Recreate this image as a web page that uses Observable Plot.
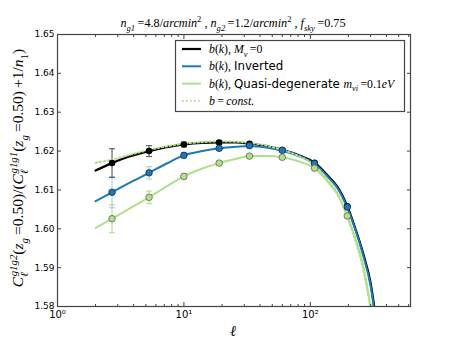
<!DOCTYPE html>
<html><head><meta charset="utf-8">
<script src="https://cdn.jsdelivr.net/npm/d3@7"></script>
<script src="https://cdn.jsdelivr.net/npm/@observablehq/plot@0.6"></script>
<style>body{margin:0;background:#fff}svg{display:block}</style>
</head><body><div id="chart"></div>
<script>
// curve sampling multipoles
const ellCurve = [2, 2.7, 3.7, 5.3, 7.3, 10, 14, 19, 26, 33, 45, 60, 80, 108, 140, 163, 196, 230, 260, 300, 330];
const curveMnu0 = [1.6150, 1.6169, 1.6186, 1.6200, 1.6210, 1.6217, 1.6221, 1.6222, 1.6222, 1.6219, 1.6213, 1.6203, 1.6190, 1.6170, 1.6134, 1.6109, 1.6058, 1.5995, 1.5940, 1.5860, 1.5770];
const curveInv  = [1.6071, 1.6094, 1.6118, 1.6144, 1.6168, 1.6189, 1.6200, 1.6207, 1.6211, 1.6213, 1.6209, 1.6201, 1.6188, 1.6167, 1.6131, 1.6106, 1.6054, 1.5992, 1.5935, 1.5852, 1.5760];
const curveQD   = [1.6002, 1.6026, 1.6052, 1.6081, 1.6109, 1.6135, 1.6155, 1.6169, 1.6180, 1.6187, 1.6187, 1.6184, 1.6174, 1.6156, 1.6118, 1.6090, 1.6033, 1.5970, 1.5910, 1.5800, 1.5720];
const curveConst= [1.6170, 1.6178, 1.6190, 1.6203, 1.6212, 1.6219, 1.6223, 1.6225, 1.6224, 1.6221, 1.6214, 1.6203, 1.6188, 1.6163, 1.6122, 1.6093, 1.6030, 1.5963, 1.5900, 1.5790, 1.5700];
// binned points with error bars
const ellBins = [2.7, 5.3, 10, 19, 33, 60, 108, 196];
const ptsMnu0 = [1.6169, 1.6200, 1.6217, 1.6222, 1.6219, 1.6203, 1.6170, 1.6058];
const errMnu0 = [0.0037, 0.0014, 0.0006, 0.0004, 0.0003, 0.0003, 0.0003, 0.0004];
const ptsInv  = [1.6094, 1.6144, 1.6189, 1.6207, 1.6214, 1.6202, 1.6168, 1.6056];
const errInv  = [0.0040, 0.0016, 0.0007, 0.0004, 0.0003, 0.0003, 0.0003, 0.0004];
const ptsQD   = [1.6026, 1.6081, 1.6135, 1.6169, 1.6187, 1.6184, 1.6156, 1.6033];
const errQD   = [0.0036, 0.0016, 0.0007, 0.0004, 0.0003, 0.0003, 0.0003, 0.0004];
// axes
const xDomain = [1, 620];
const yDomain = [1.58, 1.65];
const yTicks = [1.58, 1.59, 1.60, 1.61, 1.62, 1.63, 1.64, 1.65];
const xMajor = [1, 10, 100];
const xMajorLabels = ["10\u2070", "10\u00b9", "10\u00b2"];
const xMinor = [2,3,4,5,6,7,8,9,20,30,40,50,60,70,80,90,200,300,400,500,600];

const cBlack = "#000000", cBlue = "#1f78b4", cGreen = "#b2df8a";

const curve = (ys) => ellCurve.map((l, i) => ({l, v: ys[i]}));
const pts = (ys, es) => ellBins.map((l, i) => ({l, v: ys[i], e: es[i]}));
const capSymbol = {draw(ctx, size) { const r = Math.sqrt(size / Math.PI); ctx.moveTo(-r, 0); ctx.lineTo(r, 0); }};
const xLabelMap = new Map(xMajor.map((d, i) => [d, xMajorLabels[i]]));

function errMarks(data, color, op) {
  return [
    Plot.ruleX(data, {x: "l", y1: d => d.v - d.e, y2: d => d.v + d.e, stroke: color, strokeOpacity: op, strokeWidth: 1.2}),
    Plot.dot(data, {x: "l", y: d => d.v - d.e, symbol: capSymbol, r: 3, stroke: color, strokeOpacity: op, strokeWidth: 1.2}),
    Plot.dot(data, {x: "l", y: d => d.v + d.e, symbol: capSymbol, r: 3, stroke: color, strokeOpacity: op, strokeWidth: 1.2})
  ];
}

const fontSans = "'DejaVu Sans', sans-serif";
const chart = Plot.plot({
  width: 455, height: 341,
  marginLeft: 57, marginRight: 45, marginTop: 34, marginBottom: 35,
  style: {fontFamily: fontSans, fontSize: "9px", color: "#000", background: "#fff"},
  x: {type: "log", domain: xDomain},
  y: {domain: yDomain},
  marks: [
    ...errMarks(pts(ptsQD, errQD), cGreen, 0.9),
    ...errMarks(pts(ptsInv, errInv), "#a6cee3", 0.9),
    ...errMarks(pts(ptsMnu0, errMnu0), "#555", 0.9),
    Plot.line(curve(curveQD), {x: "l", y: "v", stroke: cGreen, strokeWidth: 2, curve: "monotone-x", clip: true}),
    Plot.line(curve(curveMnu0), {x: "l", y: "v", stroke: cBlack, strokeWidth: 2.2, curve: "monotone-x", clip: true}),
    Plot.line(curve(curveInv), {x: "l", y: "v", stroke: cBlue, strokeWidth: 2, curve: "monotone-x", clip: true}),
    Plot.line(curve(curveConst), {x: "l", y: "v", stroke: cGreen, strokeWidth: 2, strokeDasharray: "1.5,2.5", curve: "monotone-x", clip: true}),
    Plot.dot(pts(ptsMnu0, errMnu0), {x: "l", y: "v", r: 2.5, fill: cBlack, stroke: cBlack}),
    Plot.dot(pts(ptsInv, errInv), {x: "l", y: "v", r: 3.3, fill: cBlue, stroke: "#123", strokeWidth: 0.7}),
    Plot.dot(pts(ptsQD, errQD), {x: "l", y: "v", r: 3.3, fill: cGreen, stroke: "#555", strokeWidth: 0.7}),
    Plot.axisY(yTicks, {anchor: "left", label: null, tickSize: -4, tickPadding: 7, tickFormat: d3.format(".2f"), stroke: "#444"}),
    Plot.axisY(yTicks, {anchor: "right", label: null, tickSize: -4, tickFormat: () => "", stroke: "#444"}),
    Plot.axisX(xMajor, {anchor: "bottom", label: null, tickSize: -4, tickPadding: 8, tickFormat: d => xLabelMap.get(d), fontSize: "10px", stroke: "#444"}),
    Plot.axisX(xMinor, {anchor: "bottom", label: null, tickSize: -2, tickFormat: () => "", stroke: "#444"}),
    Plot.axisX(xMajor, {anchor: "top", label: null, tickSize: -4, tickFormat: () => "", stroke: "#444"}),
    Plot.axisX(xMinor, {anchor: "top", label: null, tickSize: -2, tickFormat: () => "", stroke: "#444"}),
    Plot.frame({stroke: "#444", strokeWidth: 1.2})
  ]
});
document.getElementById("chart").appendChild(chart);

// rich text helper (math-like text with sub/superscripts)
const serif = "'Liberation Serif', 'DejaVu Serif', serif";
function rich(sel, segs, size) {
  let off = 0;
  segs.forEach(s => {
    const t = sel.append("tspan").text(s.t);
    let target = 0, fs = size;
    if (s.p === "sub") { target = size * 0.3; fs = size * 0.7; }
    if (s.p === "sup") { target = -size * 0.42; fs = size * 0.7; }
    t.attr("dy", target - off).attr("font-size", fs);
    if (s.dx) t.attr("dx", s.dx);
    t.attr("font-style", s.it ? "italic" : "normal");
    t.attr("font-family", s.sans ? fontSans : serif);
    off = target;
  });
}
const svg = d3.select(chart);
const th = "\u2009";
// title
const title = svg.append("text").attr("x", 233).attr("y", 27).attr("text-anchor", "middle");
rich(title, [
  {t: "n", it: 1}, {t: "g1", it: 1, p: "sub"}, {t: th + "=4.8/"}, {t: "arcmin", it: 1}, {t: "2", p: "sup"},
  {t: " , "}, {t: "n", it: 1}, {t: "g2", it: 1, p: "sub"}, {t: th + "=1.2/"}, {t: "arcmin", it: 1}, {t: "2", p: "sup"},
  {t: " , "}, {t: "f", it: 1}, {t: "sky", it: 1, p: "sub"}, {t: th + "=0.75"}
], 12.2);
// x label
svg.append("text").attr("x", 233).attr("y", 336).attr("text-anchor", "middle").attr("font-size", 15)
  .attr("font-family", serif).attr("font-style", "italic").text("\u2113");
// y label
const yl = svg.append("text").attr("transform", "translate(23,168) rotate(-90)").attr("text-anchor", "middle");
rich(yl, [
  {t: "C", it: 1}, {t: "\u2113", it: 1, p: "sub"}, {t: "g1g2", it: 1, p: "sup", dx: -4},
  {t: "(", }, {t: "z", it: 1}, {t: "g", it: 1, p: "sub"}, {t: th + "=0.50)/("},
  {t: "C", it: 1}, {t: "\u2113", it: 1, p: "sub"}, {t: "g1g1", it: 1, p: "sup", dx: -4},
  {t: "("}, {t: "z", it: 1}, {t: "g", it: 1, p: "sub"}, {t: th + "=0.50)" + th + "+1/"}, {t: "n", it: 1}, {t: "1", p: "sub"}, {t: ")"}
], 15.5);
// legend
const lg = svg.append("g");
lg.append("rect").attr("x", 175.5).attr("y", 40.5).attr("width", 229).attr("height", 71).attr("fill", "#fff").attr("stroke", "#444").attr("stroke-width", 1.2);
const entries = [
  {c: cBlack, w: 2.2, dash: null, segs: [{t: "b", it: 1}, {t: "(", }, {t: "k", it: 1}, {t: "), "}, {t: "M", it: 1}, {t: "\u03bd", it: 1, p: "sub"}, {t: th + "=0"}]},
  {c: cBlue, w: 2, dash: null, segs: [{t: "b", it: 1}, {t: "("}, {t: "k", it: 1}, {t: "), "}, {t: "Inverted", sans: 1}]},
  {c: cGreen, w: 2, dash: null, segs: [{t: "b", it: 1}, {t: "("}, {t: "k", it: 1}, {t: "), "}, {t: "Quasi-degenerate ", sans: 1}, {t: "m", it: 1}, {t: "\u03bdi", it: 1, p: "sub"}, {t: th + "=0.1"}, {t: "eV", it: 1}]},
  {c: cGreen, w: 2, dash: "1.5,2.5", segs: [{t: "b", it: 1}, {t: th + "=" + th}, {t: "const.", it: 1}]}
];
entries.forEach((e, i) => {
  const y = 49 + i * 17.3;
  const ln = lg.append("line").attr("x1", 182).attr("x2", 201).attr("y1", y).attr("y2", y).attr("stroke", e.c).attr("stroke-width", e.w);
  if (e.dash) ln.attr("stroke-dasharray", e.dash);
  const t = lg.append("text").attr("x", 209).attr("y", y + 4).attr("text-anchor", "start");
  rich(t, e.segs, 11.8);
});
</script></body></html>
